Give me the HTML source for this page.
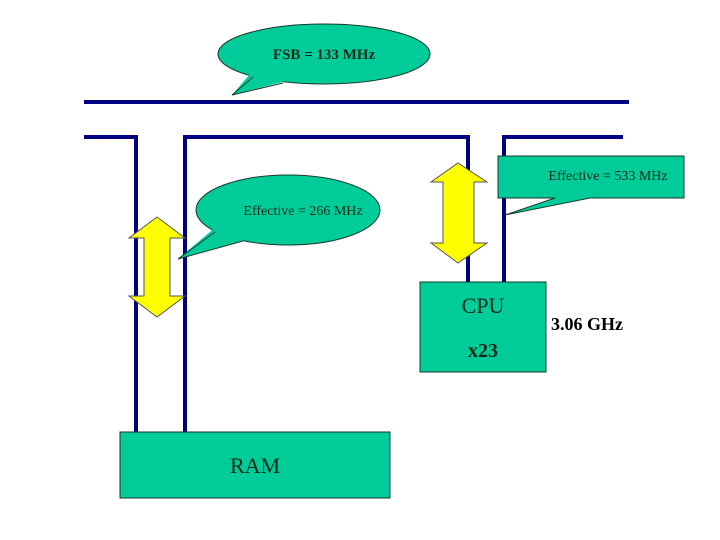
<!DOCTYPE html>
<html><head><style>body{margin:0;background:#fff}</style></head><body>
<svg width="720" height="540" xmlns="http://www.w3.org/2000/svg" style="display:block">
<rect width="720" height="540" fill="#fff"/>
<g stroke="#000080" stroke-width="4" fill="none">
<line x1="84" y1="102" x2="629" y2="102"/>
<polyline points="84,137 136,137 136,432"/>
<polyline points="185,432 185,137 468,137 468,283"/>
<polyline points="504,283 504,137 623,137"/>
</g>
<g fill="#00CC99" stroke="#1a3a2a" stroke-width="1">
<ellipse cx="324" cy="54" rx="106" ry="30"/>
<ellipse cx="288" cy="210" rx="92" ry="35"/>
<path d="M498,156 L684,156 L684,198 L590,198 L505,215 L555,198 L498,198 Z"/>
<rect x="420" y="282" width="126" height="90"/>
<rect x="120" y="432" width="270" height="66"/>
</g>
<g fill="#00CC99" stroke="none">
<polygon points="250,74 232,95 290,80 288,78"/>
<polygon points="217,226 178,259 245,240 243,236"/>
</g>
<g stroke="#1a3a2a" stroke-width="1" fill="none">
<polyline points="253,77 232,95 283,83"/>
<polyline points="215,232 178,259 243,241"/>
</g>
<g fill="#FFFF00" stroke="#555" stroke-width="1">
<polygon points="157,217 185,238 170,238 170,296 185,296 157,317 129,296 144,296 144,238 129,238"/>
<polygon points="458,163 487,182 474,182 474,243 487,243 458,263 431,243 443,243 443,182 431,182"/>
</g>
<g font-family="Liberation Serif, serif" fill="#102a18">
<text x="324" y="59" text-anchor="middle" font-size="15" font-weight="bold">FSB = 133 MHz</text>
<text x="303" y="215" text-anchor="middle" font-size="14">Effective = 266 MHz</text>
<text x="608" y="180" text-anchor="middle" font-size="14">Effective = 533 MHz</text>
<text x="483" y="313" text-anchor="middle" font-size="22">CPU</text>
<text x="483" y="357" text-anchor="middle" font-size="20" font-weight="bold">x23</text>
<text x="255" y="473" text-anchor="middle" font-size="22">RAM</text>
<text x="551" y="330" font-size="18" font-weight="bold" fill="#000">3.06 GHz</text>
</g>
</svg>
</body></html>
